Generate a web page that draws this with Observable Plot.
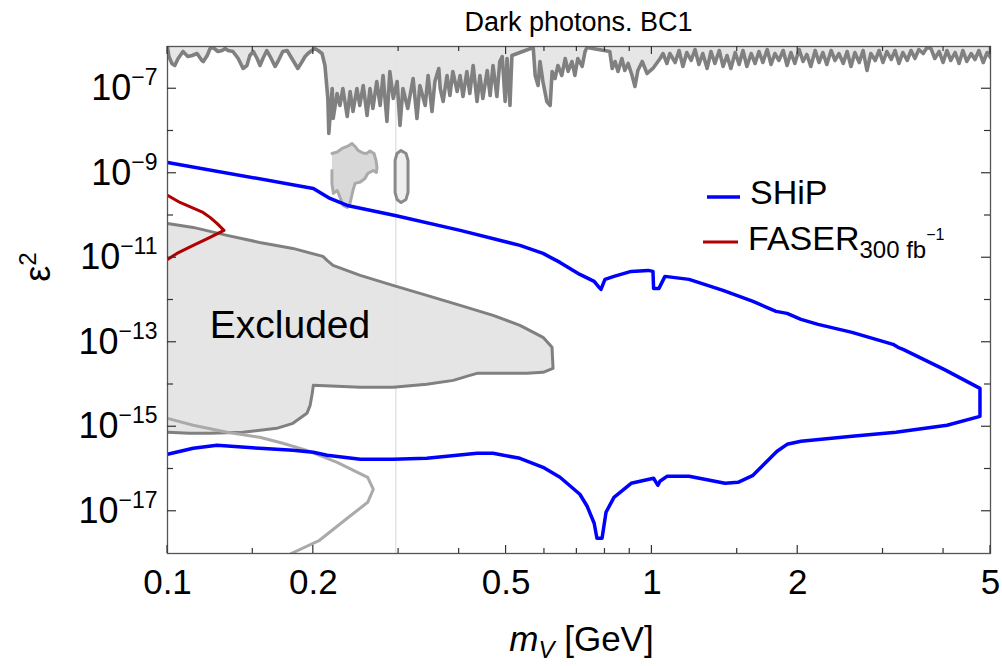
<!DOCTYPE html>
<html>
<head>
<meta charset="utf-8">
<script src="https://cdn.jsdelivr.net/npm/d3@7"></script>
<script src="https://cdn.jsdelivr.net/npm/@observablehq/plot@0.6"></script>
<style>
  body { margin: 0; background: #fff; }
  #chart { position: relative; width: 1002px; height: 666px; }
  svg text { font-family: "Liberation Sans", Arial, sans-serif; }
</style>
</head>
<body>
<div id="chart"></div>
<script>
// ---------------- DATA (mass in GeV, log10 of epsilon^2) ----------------
const shipMass = [0.1,0.2,0.2165,0.235,0.295,0.402,0.534,0.596,0.646,0.710,0.760,0.778,0.785,0.800,0.835,0.906,0.982,1.005,1.008,1.034,1.064,1.193,1.402,1.617,1.804,1.901,2.031,2.203,2.589,3.146,3.221,3.300,4.009,4.756,
  4.756,4.067,3.300,3.191,2.589,2.031,1.901,1.813,1.617,1.506,1.416,1.193,1.074,1.039,1.029,1.008,0.906,0.835,0.804,0.789,0.770,0.760,0.735,0.710,0.646,0.596,0.534,0.470,0.4355,0.343,0.292,0.250,0.2135,0.2,0.1815,0.155,0.1265,0.113,0.1];
const shipLogEps = [-8.744,-9.359,-9.596,-9.762,-9.998,-10.353,-10.708,-10.897,-11.110,-11.394,-11.560,-11.701,-11.749,-11.512,-11.441,-11.323,-11.299,-11.323,-11.725,-11.725,-11.441,-11.512,-11.772,-12.033,-12.269,-12.317,-12.459,-12.577,-12.766,-13.050,-13.121,-13.168,-13.641,-14.091,
  -14.753,-14.966,-15.108,-15.132,-15.226,-15.345,-15.416,-15.581,-16.149,-16.315,-16.338,-16.173,-16.173,-16.291,-16.386,-16.220,-16.338,-16.670,-17.024,-17.639,-17.639,-17.285,-16.882,-16.598,-16.196,-15.960,-15.747,-15.629,-15.629,-15.747,-15.770,-15.770,-15.676,-15.605,-15.558,-15.510,-15.439,-15.510,-15.652];

const faserMass = [0.1,0.1061,0.1184,0.1224,0.1265,0.1308,0.1224,0.113,0.1046,0.1];
const faserLogEps = [-9.525,-9.691,-9.927,-10.045,-10.187,-10.353,-10.519,-10.708,-10.897,-11.039];

const excludedMass = [0.1,0.113,0.1327,0.155,0.1815,0.2094,0.2135,0.2196,0.250,0.292,0.343,0.402,0.470,0.534,0.596,0.622,0.625,0.596,0.552,0.4355,0.421,0.389,0.343,0.292,0.250,0.2,0.199,0.197,0.194,0.1815,0.168,0.143,0.1224,0.111,0.1];
const excludedLogEps = [-10.187,-10.282,-10.471,-10.637,-10.779,-10.968,-11.063,-11.181,-11.418,-11.654,-11.891,-12.127,-12.364,-12.600,-12.884,-13.121,-13.618,-13.712,-13.736,-13.736,-13.783,-13.902,-13.996,-14.067,-14.067,-14.020,-14.209,-14.493,-14.682,-14.919,-15.037,-15.132,-15.155,-15.155,-15.132];

const lowerMass = [0.1,0.113,0.1327,0.155,0.173,0.194,0.224,0.259,0.266,0.259,0.235,0.206,0.180];
const lowerLogEps = [-14.801,-14.966,-15.132,-15.250,-15.392,-15.558,-15.842,-16.196,-16.480,-16.788,-17.166,-17.687,-18.0];

const islandMass = [0.2185,0.224,0.2293,0.235,0.2404,0.2439,0.2474,0.2533,0.2581,0.2618,0.2669,0.2694,0.2707,0.270,0.266,0.259,0.2557,0.250,0.2439,0.2415,0.2381,0.235,0.2304,0.2271,0.224,0.220,0.2185,0.2185];
const islandLogEps = [-8.531,-8.496,-8.413,-8.366,-8.295,-8.366,-8.460,-8.520,-8.531,-8.472,-8.531,-8.697,-8.863,-8.981,-8.934,-9.005,-9.123,-9.206,-9.241,-9.407,-9.714,-9.809,-9.762,-9.572,-9.407,-9.478,-9.241,-8.934];

const ovalMass = [0.295,0.2977,0.3034,0.3107,0.3137,0.3137,0.3107,0.3034,0.2977,0.295,0.295];
const ovalLogEps = [-8.697,-8.531,-8.460,-8.531,-8.697,-9.454,-9.620,-9.691,-9.620,-9.454,-8.697];

// upper excluded region, log10 mass & log10 eps^2, left to right
const topA_logM = [-1.000,-0.997,-0.991,-0.985,-0.978,-0.968,-0.958,-0.949,-0.939,-0.929,-0.926,-0.918,-0.912,-0.906,-0.896,-0.887,-0.881,-0.875,-0.865,-0.854,-0.844,-0.836,-0.830,-0.823,-0.815,-0.809,-0.803,-0.795,-0.788,-0.778,-0.772,-0.762,-0.753,-0.747,-0.737,-0.731,-0.722,-0.716,-0.710,-0.702,-0.696,-0.689,-0.681,-0.675,-0.669,-0.667];
const topA_logE = [-6.024,-6.237,-6.402,-6.449,-6.284,-6.118,-6.237,-6.213,-6.166,-6.331,-6.355,-6.213,-6.047,-6.024,-6.118,-6.095,-6.047,-6.095,-6.118,-6.284,-6.520,-6.449,-6.213,-6.118,-6.284,-6.449,-6.284,-6.095,-6.237,-6.473,-6.355,-6.118,-6.095,-6.213,-6.402,-6.520,-6.355,-6.237,-6.166,-6.095,-6.047,-6.095,-6.166,-6.449,-7.230,-8.058];
const topB_logM = [-0.660,-0.658,-0.650,-0.644,-0.638,-0.629,-0.623,-0.617,-0.609,-0.603,-0.596,-0.588,-0.582,-0.576,-0.568,-0.561,-0.555,-0.547,-0.541,-0.534,-0.526,-0.520,-0.514,-0.504,-0.493,-0.485,-0.479,-0.468,-0.462,-0.454,-0.448,-0.440];
const topB_logE = [-6.994,-7.703,-7.112,-7.396,-6.994,-7.656,-7.065,-7.538,-6.994,-7.396,-6.923,-7.632,-6.994,-7.467,-6.828,-7.396,-6.686,-7.774,-6.591,-7.230,-6.828,-7.869,-6.994,-7.467,-6.757,-7.703,-6.923,-7.396,-6.686,-7.538,-6.828,-6.520];
const topC_logM = [-0.437,-0.431,-0.423,-0.417,-0.411,-0.402,-0.396,-0.390,-0.382,-0.376,-0.369,-0.361,-0.355,-0.349,-0.340,-0.334,-0.328,-0.320,-0.314,-0.309,-0.303,-0.299,-0.293,-0.289,-0.245];
const topC_logE = [-6.994,-7.301,-6.686,-7.159,-6.591,-7.065,-6.686,-7.183,-6.591,-7.112,-6.449,-7.301,-6.686,-7.230,-6.568,-7.159,-6.449,-7.183,-6.355,-6.237,-7.301,-6.284,-7.396,-6.213,-6.024];
const topD_logM = [-0.241,-0.235,-0.231,-0.225,-0.217,-0.210,-0.206,-0.200,-0.194,-0.186,-0.179,-0.173,-0.165,-0.159,-0.153,-0.144,-0.138,-0.134];
const topD_logE = [-6.686,-6.923,-6.355,-6.828,-7.301,-7.396,-6.591,-6.757,-6.449,-6.686,-6.284,-6.591,-6.355,-6.686,-6.284,-6.473,-6.118,-6.024];
const topE_logM = [-0.087,-0.082,-0.076,-0.070,-0.062,-0.056,-0.049,-0.041,-0.035,-0.029,-0.020,-0.010,0.002,0.017,0.023,0.031,0.037];
const topE_logE = [-6.118,-6.520,-6.355,-6.591,-6.284,-6.568,-6.402,-6.686,-6.946,-6.568,-6.355,-6.639,-6.520,-6.284,-6.166,-6.402,-6.166];
const topF_logM = [0.048,0.056,0.064,0.072,0.081,0.089,0.097,0.105,0.114,0.122,0.130,0.139,0.147,0.155,0.163,0.172,0.180,0.188,0.196,0.205,
  0.213,0.221,0.229,0.238,0.246,0.254,0.262,0.271,0.279,0.287,0.295,0.304,0.312,0.320,0.328,0.337,0.345,0.353,0.361,0.370,
  0.378,0.386,0.395,0.403,0.411,0.419,0.428,0.436,0.444,0.452,0.461,0.469,0.477,0.485,0.494,0.502,0.510,0.518,0.527,0.535,
  0.543,0.551,0.560,0.568,0.576,0.584,0.593,0.601,0.609,0.617,0.626,0.634,0.642,0.650,0.659,0.667,0.675,0.684,0.692,0.699];
const topF_logE = [-6.379,-6.095,-6.473,-6.142,-6.331,-6.071,-6.426,-6.166,-6.520,-6.118,-6.402,-6.095,-6.473,-6.213,-6.520,-6.142,-6.426,-6.095,-6.473,-6.166,
  -6.402,-6.118,-6.379,-6.071,-6.426,-6.166,-6.331,-6.095,-6.449,-6.142,-6.402,-6.071,-6.355,-6.189,-6.473,-6.095,-6.379,-6.142,-6.426,-6.095,
  -6.331,-6.166,-6.402,-6.118,-6.473,-6.142,-6.379,-6.095,-6.568,-6.166,-6.331,-6.095,-6.379,-6.118,-6.308,-6.095,-6.402,-6.142,-6.331,-6.095,
  -6.284,-6.071,-6.166,-6.024,-6.047,-6.284,-6.118,-6.379,-6.095,-6.331,-6.142,-6.402,-6.095,-6.355,-6.166,-6.308,-6.095,-6.379,-6.142,-6.260];

const faintRuleMass = [0.296];

const annoLabel = ["Excluded"];
const annoMass = [0.179];
const annoLogEps = [-12.6];

const xTickLabels = [0.1, 0.2, 0.5, 1, 2, 5];
const xMinorTicks = [0.15, 0.3, 0.4, 0.6, 0.7, 0.8, 0.9, 1.5, 3, 4];
const yLabelTicks = [1e-7, 1e-9, 1e-11, 1e-13, 1e-15, 1e-17];
const yMinorTicks = [1e-8, 1e-10, 1e-12, 1e-14, 1e-16];

const titleText = "Dark photons. BC1";
const legendNames = ["SHiP", "FASER"];

// ---------------- tables ----------------
const toRows = (ms, es) => ms.map((m, i) => ({m, e: 10 ** es[i]}));
const toRowsLog = (lms, les) => lms.map((lm, i) => ({m: 10 ** lm, e: 10 ** les[i]}));

const ship = toRows(shipMass, shipLogEps);
const faser = toRows(faserMass, faserLogEps);
const excluded = toRows(excludedMass, excludedLogEps);
const lower = toRows(lowerMass, lowerLogEps);
const island = toRows(islandMass, islandLogEps);
const oval = toRows(ovalMass, ovalLogEps);
const topRegion = [
  {m: 0.1, e: 1e-6},
  ...toRowsLog(topA_logM, topA_logE),
  ...toRowsLog(topB_logM, topB_logE),
  ...toRowsLog(topC_logM, topC_logE),
  ...toRowsLog(topD_logM, topD_logE),
  ...toRowsLog(topE_logM, topE_logE),
  ...toRowsLog(topF_logM, topF_logE),
  {m: 5, e: 1e-6}
];
const annotations = annoLabel.map((t, i) => ({t, m: annoMass[i], e: 10 ** annoLogEps[i]}));

// ---------------- chart ----------------
const FONT = "Liberation Sans, Arial, sans-serif";
const GRAY = "#808080";
const chart = Plot.plot({
  width: 1002,
  height: 666,
  marginLeft: 167,
  marginRight: 12,
  marginTop: 46,
  marginBottom: 113,
  style: {fontFamily: FONT, background: "#fff"},
  x: {type: "log", domain: [0.1, 5]},
  y: {type: "log", domain: [1e-18, 1e-6]},
  marks: [
    Plot.line(topRegion, {x: "m", y: "e", fill: "#e6e6e6", stroke: "none", clip: true}),
    Plot.line(excluded, {x: "m", y: "e", fill: "#e5e5e5", stroke: "none", clip: true}),
    Plot.line(island, {x: "m", y: "e", fill: "#d9d9d9", stroke: "none", clip: true}),
    Plot.line(oval, {x: "m", y: "e", fill: "#efefef", stroke: "none", clip: true}),
    Plot.ruleX(faintRuleMass, {stroke: "#e4e4e4", strokeWidth: 1.5}),
    Plot.line(topRegion, {x: "m", y: "e", stroke: GRAY, strokeWidth: 3.6, clip: true}),
    Plot.line(excluded, {x: "m", y: "e", stroke: GRAY, strokeWidth: 3, clip: true}),
    Plot.line(island, {x: "m", y: "e", stroke: "#aaaaaa", strokeWidth: 3, clip: true}),
    Plot.line(oval, {x: "m", y: "e", stroke: "#8a8a8a", strokeWidth: 3, clip: true}),
    Plot.line(lower, {x: "m", y: "e", stroke: "#aaaaaa", strokeWidth: 3, clip: true}),
    Plot.line(ship, {x: "m", y: "e", stroke: "#0000ff", strokeWidth: 3.5, clip: true}),
    Plot.line(faser, {x: "m", y: "e", stroke: "#b00000", strokeWidth: 3, clip: true}),
    Plot.text(annotations, {x: "m", y: "e", text: "t", fontSize: 39, fill: "#000", textAnchor: "middle", lineAnchor: "middle"}),
    Plot.frame({stroke: "#555", strokeWidth: 1.3}),
    Plot.axisX(xTickLabels, {tickSize: 0, tickPadding: 16, fontSize: 35, tickFormat: d => String(d), label: null, fill: "#000"}),
    Plot.axisY(yLabelTicks, {tickSize: 0, tickPadding: 10, fontSize: 36, tickFormat: d => String(Math.round(Math.log10(d))), label: null, fill: "#000"})
  ]
});
document.getElementById("chart").appendChild(chart);

// ---------------- post-processing: ticks, superscripts, labels, legend ----------------
const svg = d3.select(chart);
const sx = chart.scale("x"), sy = chart.scale("y");
const [L, R] = sx.range;
const [B, T] = sy.range;
const tg = svg.append("g").attr("stroke", "#333").attr("stroke-width", 1.2);
const tick = (x1, y1, x2, y2) => tg.append("line").attr("x1", x1).attr("y1", y1).attr("x2", x2).attr("y2", y2);
for (const v of xTickLabels) { const p = sx.apply(v); tick(p, B, p, B - 8); tick(p, T, p, T + 8); }
for (const v of xMinorTicks) { const p = sx.apply(v); tick(p, B, p, B - 5); tick(p, T, p, T + 5); }
for (const v of yLabelTicks) { const p = sy.apply(v); tick(L, p, L + 9, p); tick(R, p, R - 9, p); }
for (const v of yMinorTicks) { const p = sy.apply(v); tick(L, p, L + 6, p); tick(R, p, R - 6, p); }

// y tick labels: 10 with superscript exponent
svg.selectAll('g[aria-label="y-axis tick label"] text').each(function () {
  const t = d3.select(this);
  const exp = t.text().replace("-", "\u2212");
  t.text(null);
  t.append("tspan").text("10");
  t.append("tspan").attr("dy", -15).attr("font-size", 23).text(exp);
});

// title
svg.append("text").attr("x", (L + R) / 2).attr("y", 31).attr("text-anchor", "middle")
  .attr("font-size", 27).attr("fill", "#000").text(titleText);

// x label
const xl = svg.append("text").attr("x", (L + R) / 2 + 3).attr("y", 651).attr("text-anchor", "middle")
  .attr("font-size", 35).attr("fill", "#000");
xl.append("tspan").attr("font-style", "italic").text("m");
xl.append("tspan").attr("font-style", "italic").attr("font-size", 24).attr("dy", 7).text("V");
xl.append("tspan").attr("dy", -7).text(" [GeV]");

// y label
const yl = svg.append("text").attr("transform", "translate(50,267) rotate(-90)").attr("text-anchor", "middle")
  .attr("font-size", 36).attr("fill", "#000");
yl.append("tspan").text("\u03b5");
yl.append("tspan").attr("font-size", 24).attr("dy", -14).text("2");

// legend
const lg = svg.append("g").attr("text-anchor", "start");
lg.append("line").attr("x1", 707).attr("x2", 740).attr("y1", 197).attr("y2", 197).attr("stroke", "#0000ff").attr("stroke-width", 3.5);
lg.append("text").attr("x", 750).attr("y", 204).attr("text-anchor", "start").attr("font-size", 34).attr("fill", "#000").text(legendNames[0]);
lg.append("line").attr("x1", 703).attr("x2", 738).attr("y1", 242).attr("y2", 242).attr("stroke", "#b00000").attr("stroke-width", 3);
const ft = lg.append("text").attr("x", 748).attr("y", 250).attr("text-anchor", "start").attr("font-size", 34).attr("fill", "#000");
ft.append("tspan").text(legendNames[1]);
ft.append("tspan").attr("font-size", 24).attr("dy", 8).text("300 fb");
ft.append("tspan").attr("font-size", 16).attr("dy", -18).text("\u22121");
</script>
</body>
</html>
